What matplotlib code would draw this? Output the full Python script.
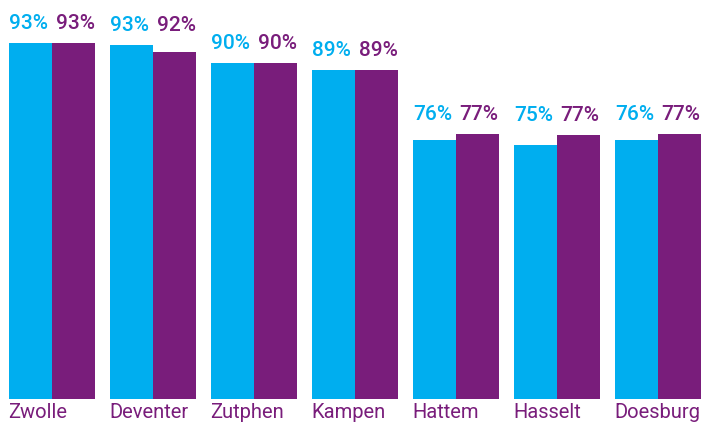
import matplotlib
matplotlib.use("Agg")
import matplotlib.pyplot as plt
import numpy as np

categories = ["Zwolle", "Deventer", "Zutphen", "Kampen", "Hattem", "Hasselt", "Doesburg"]
series_a = [93.0, 92.7, 89.5, 88.2, 75.8, 75.0, 75.8]   # cyan bars
series_b = [93.0, 91.4, 89.5, 88.2, 76.9, 76.7, 76.9]   # purple bars
labels_a = [93, 93, 90, 89, 76, 75, 76]
labels_b = [93, 92, 90, 89, 77, 77, 77]

CYAN = "#00AEEF"
PURPLE = "#791D7B"

W, H = 702, 423
fig = plt.figure(figsize=(W / 100, H / 100), dpi=100)
base_px = 399
px_per_unit = 5.65
ymin = 30
ax = fig.add_axes([0, (H - base_px) / H, 1, base_px / H])
ax.set_ylim(ymin, ymin + base_px / px_per_unit)

x = np.arange(len(categories))
bw = 0.43
ax.bar(x - bw / 2, series_a, width=bw, color=CYAN, linewidth=0)
ax.bar(x + bw / 2, series_b, width=bw, color=PURPLE, linewidth=0)
ax.set_xlim(-0.515, 6.436)
ax.axis("off")

lab_font = dict(family="Roboto", fontsize=15, fontweight="medium")
for i in range(len(categories)):
    top = max(series_a[i], series_b[i])
    ax.annotate(f"{labels_a[i]}%", (x[i] - bw / 2, top), xytext=(-1, 10),
                textcoords="offset points", ha="center", va="baseline",
                color=CYAN, **lab_font)
    ax.annotate(f"{labels_b[i]}%", (x[i] + bw / 2, top), xytext=(1, 10),
                textcoords="offset points", ha="center", va="baseline",
                color=PURPLE, **lab_font)
    ax.annotate(categories[i], (x[i] - bw, ymin), xytext=(0, -3),
                textcoords="offset points", ha="left", va="top",
                color=PURPLE, family="Roboto", fontsize=14.5, annotation_clip=False)

fig.savefig("out.png", dpi=100)
